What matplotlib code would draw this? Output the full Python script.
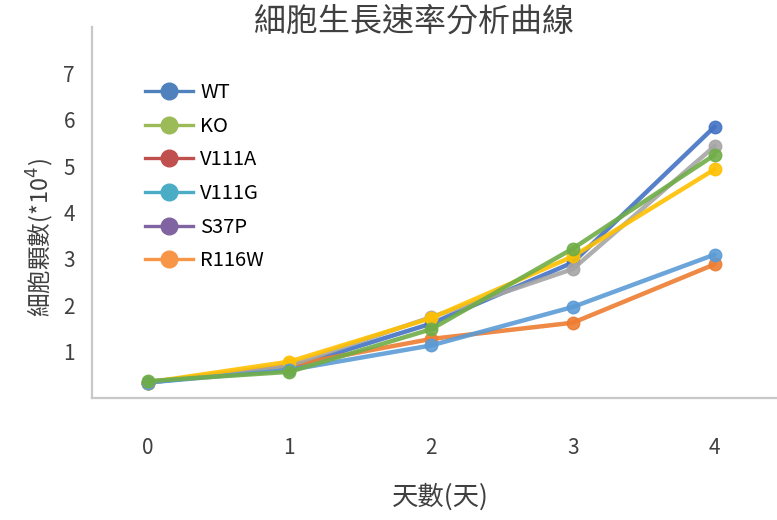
import matplotlib
matplotlib.use("Agg")
import matplotlib.pyplot as plt
from matplotlib.lines import Line2D

plt.rcParams['font.family'] = ['Noto Sans CJK TC', 'DejaVu Sans']

days = [0, 1, 2, 3, 4]
series_names = ['WT', 'KO', 'V111A', 'V111G', 'S37P', 'R116W']

# cell counts (x10^4) per day
wt = [0.33, 0.65, 1.60, 2.92, 5.85]
ko = [0.33, 0.70, 1.27, 1.62, 2.88]
v111a = [0.33, 0.70, 1.74, 2.78, 5.43]
v111g = [0.33, 0.78, 1.72, 3.05, 4.93]
s37p = [0.33, 0.60, 1.13, 1.96, 3.09]
r116w = [0.36, 0.56, 1.48, 3.22, 5.24]

line_colors = ['#4472C4', '#ED7D31', '#A5A5A5', '#FFC000', '#5B9BD5', '#70AD47']
legend_colors = ['#4F81BD', '#9BBB59', '#C0504D', '#4BACC6', '#8064A2', '#F79646']

fig = plt.figure(figsize=(7.77, 5.2), dpi=100)
ax = fig.add_axes([0.118, 0.235, 0.882, 0.713])

for vals, c in zip([wt, ko, v111a, v111g, s37p, r116w], line_colors):
    ax.plot(days, vals, color=c, lw=3.2, marker='o', ms=9, alpha=0.9,
            solid_capstyle='round')

ax.set_xlim(-0.395, 4.44)
ax.set_ylim(0, 8)
ax.set_xticks(days)
ax.set_yticks([1, 2, 3, 4, 5, 6, 7])
ax.tick_params(length=0, labelsize=15, colors='#404040')
ax.tick_params(axis='x', pad=28)
ax.tick_params(axis='y', pad=12)
for s in ['top', 'right']:
    ax.spines[s].set_visible(False)
for s in ['left', 'bottom']:
    ax.spines[s].set_color('#c8c8c8')
    ax.spines[s].set_linewidth(1.6)

handles = [Line2D([0], [0], color=c, lw=2.4, marker='o', ms=12) for c in legend_colors]
ax.legend(handles, series_names, loc='upper left', bbox_to_anchor=(145 / 777, 1 - 82 / 520),
          bbox_transform=fig.transFigure, frameon=False, fontsize=14.5,
          handlelength=2.4, handletextpad=0.35, labelspacing=0.63,
          borderpad=0, borderaxespad=0)

fig.text(414 / 777, 1 - 22 / 520, '細胞生長速率分析曲線', ha='center', va='center',
         fontsize=23, weight='light', color='#404040')
fig.text(40 / 777, 1 - 238 / 520, '細胞顆數(*10$^4$)', ha='center', va='center',
         rotation=90, fontsize=17, weight='light', color='#404040')
fig.text(440 / 777, 1 - 497 / 520, '天數(天)', ha='center', va='center',
         fontsize=19, weight='light', color='#404040')

fig.savefig('out.png', dpi=100)
